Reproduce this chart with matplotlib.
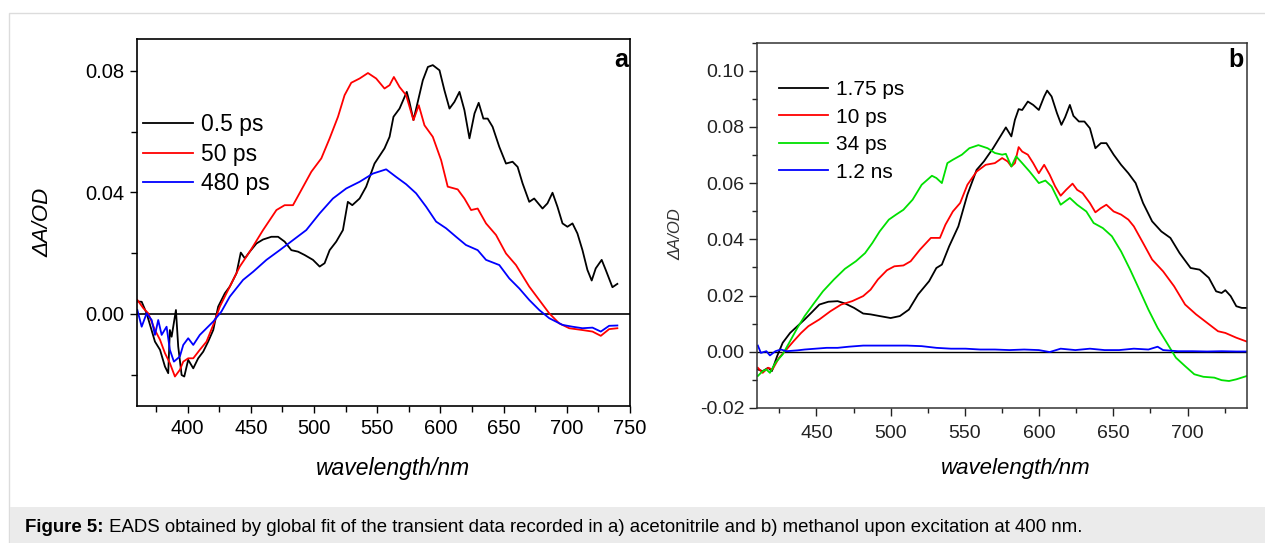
import numpy as np
import matplotlib
matplotlib.use("Agg")
import matplotlib.pyplot as plt
from matplotlib.ticker import MultipleLocator
from matplotlib.patches import Rectangle

plt.rcParams['font.family'] = ['Liberation Sans', 'DejaVu Sans']

# panel a (acetonitrile): (wavelength nm, dA)
a_05ps = [(360.3, 0.0041), (363.7, 0.0040), (367.6, 0.0002), (374.2, -0.0091), (378.2, -0.0118),
          (382.1, -0.0173), (384.7, -0.0195), (386.0, -0.0053), (387.4, -0.0075), (390.8, 0.0013),
          (392.6, -0.0107), (395.3, -0.0201), (397.4, -0.0206), (400.5, -0.0151), (404.5, -0.0179),
          (408.4, -0.0146), (412.4, -0.0124), (416.3, -0.0091), (420.3, -0.0053), (424.2, 0.0024),
          (429.5, 0.0068), (433.4, 0.0090), (438.7, 0.0134), (442.1, 0.0202), (445.3, 0.0183),
          (449.2, 0.0205), (454.5, 0.0232), (459.7, 0.0245), (466.3, 0.0254), (471.6, 0.0254),
          (476.8, 0.0238), (482.1, 0.0210), (487.4, 0.0205), (492.6, 0.0194), (499.2, 0.0178),
          (504.5, 0.0156), (508.4, 0.0167), (512.4, 0.0210), (517.6, 0.0238), (522.9, 0.0276),
          (526.8, 0.0369), (530.3, 0.0358), (536.1, 0.0380), (541.3, 0.0419), (547.9, 0.0495),
          (555.8, 0.0545), (559.8, 0.0583), (562.9, 0.0649), (567.7, 0.0676), (573.4, 0.0731),
          (575.5, 0.0698), (578.7, 0.0638), (582.1, 0.0698), (586.1, 0.0769), (590.1, 0.0813),
          (594.0, 0.0819), (599.3, 0.0802), (603.2, 0.0736), (607.2, 0.0676), (611.1, 0.0698),
          (615.1, 0.0731), (619.0, 0.0671), (623.0, 0.0578), (627.0, 0.0660), (630.3, 0.0695),
          (634.0, 0.0643), (637.4, 0.0643), (641.3, 0.0616), (646.6, 0.0550), (651.9, 0.0495),
          (657.1, 0.0501), (661.1, 0.0484), (665.0, 0.0430), (670.3, 0.0369), (674.2, 0.0380),
          (680.8, 0.0347), (684.7, 0.0364), (688.7, 0.0399), (692.6, 0.0353), (696.6, 0.0298),
          (700.5, 0.0287), (704.5, 0.0298), (708.4, 0.0265), (712.4, 0.0210), (716.3, 0.0145),
          (719.7, 0.0110), (722.9, 0.0150), (727.6, 0.0178), (730.8, 0.0145), (736.1, 0.0088),
          (740.0, 0.0099)]

a_50ps = [(360.3, 0.0046), (365.0, 0.0019), (368.9, 0.0002), (374.2, -0.0053), (378.2, -0.0085),
          (382.1, -0.0129), (386.0, -0.0162), (390.0, -0.0206), (393.9, -0.0184), (396.6, -0.0157),
          (400.5, -0.0146), (404.5, -0.0146), (409.7, -0.0118), (415.0, -0.0091), (420.3, -0.0036),
          (425.5, 0.0024), (433.4, 0.0090), (441.3, 0.0156), (449.2, 0.0205), (459.7, 0.0276),
          (470.3, 0.0342), (476.8, 0.0358), (483.4, 0.0358), (490.0, 0.0408), (497.9, 0.0468),
          (505.8, 0.0512), (512.4, 0.0578), (519.0, 0.0649), (524.2, 0.0720), (529.5, 0.0761),
          (536.1, 0.0775), (542.7, 0.0793), (549.2, 0.0775), (555.8, 0.0742), (559.8, 0.0753),
          (563.2, 0.0780), (567.7, 0.0747), (572.9, 0.0720), (578.7, 0.0638), (582.9, 0.0687),
          (587.4, 0.0621), (594.0, 0.0583), (600.6, 0.0506), (605.8, 0.0419), (613.7, 0.0410),
          (619.0, 0.0380), (624.3, 0.0342), (629.5, 0.0347), (636.1, 0.0298), (644.0, 0.0260),
          (651.9, 0.0199), (659.8, 0.0161), (670.3, 0.0090), (678.2, 0.0046), (686.1, 0.0002),
          (694.0, -0.0031), (701.9, -0.0047), (712.4, -0.0053), (720.3, -0.0058), (726.9, -0.0072),
          (733.5, -0.0050), (740.0, -0.0047)]

a_480ps = [(360.3, 0.0013), (363.7, -0.0042), (367.6, 0.0002), (371.6, -0.0020), (374.2, -0.0069),
           (376.8, -0.0020), (379.5, -0.0069), (383.4, -0.0042), (386.0, -0.0118), (389.2, -0.0157),
           (393.9, -0.0140), (396.6, -0.0102), (400.5, -0.0080), (404.5, -0.0102), (409.7, -0.0069),
           (415.0, -0.0047), (420.3, -0.0025), (426.8, 0.0008), (433.4, 0.0057), (443.9, 0.0112),
           (451.9, 0.0139), (462.4, 0.0178), (472.9, 0.0210), (483.4, 0.0243), (493.9, 0.0276),
           (504.5, 0.0331), (515.0, 0.0380), (525.5, 0.0413), (536.1, 0.0435), (546.6, 0.0462),
           (557.1, 0.0476), (565.0, 0.0451), (572.9, 0.0427), (580.8, 0.0397), (588.7, 0.0353),
           (596.6, 0.0304), (604.5, 0.0282), (612.4, 0.0254), (620.2, 0.0227), (629.5, 0.0210),
           (636.1, 0.0178), (646.6, 0.0161), (654.5, 0.0117), (662.4, 0.0084), (670.3, 0.0046),
           (678.2, 0.0013), (686.1, -0.0014), (696.6, -0.0036), (704.5, -0.0042), (712.4, -0.0047),
           (720.3, -0.0045), (726.9, -0.0058), (733.5, -0.0039), (740.0, -0.0038)]

# panel b (methanol)
b_175ps = [(410.6, -0.0063), (413.8, -0.0069), (417.5, -0.0057), (420.0, -0.0069), (423.6, -0.0015),
           (427.3, 0.0032), (432.3, 0.0067), (437.2, 0.0091), (442.1, 0.0115), (447.0, 0.0141),
           (452.0, 0.0168), (458.1, 0.0178), (464.3, 0.0180), (469.2, 0.0172), (475.4, 0.0156),
           (481.5, 0.0136), (486.5, 0.0133), (492.6, 0.0127), (500.0, 0.0120), (506.2, 0.0127),
           (512.3, 0.0150), (518.5, 0.0204), (525.9, 0.0251), (530.8, 0.0298), (534.5, 0.0310),
           (539.4, 0.0375), (545.6, 0.0446), (551.7, 0.0559), (557.9, 0.0647), (562.8, 0.0677),
           (569.0, 0.0724), (573.9, 0.0766), (577.6, 0.0798), (581.3, 0.0766), (583.7, 0.0825),
           (586.2, 0.0863), (588.6, 0.0860), (592.4, 0.0890), (596.0, 0.0878), (599.8, 0.0860),
           (603.4, 0.0908), (605.4, 0.0929), (608.4, 0.0908), (612.0, 0.0849), (615.0, 0.0807),
           (617.5, 0.0834), (620.7, 0.0878), (623.1, 0.0839), (626.8, 0.0819), (630.5, 0.0819),
           (634.2, 0.0795), (637.9, 0.0724), (641.6, 0.0742), (645.3, 0.0742), (650.2, 0.0701),
           (655.2, 0.0665), (660.1, 0.0635), (665.0, 0.0600), (670.0, 0.0529), (676.1, 0.0464),
           (682.3, 0.0428), (688.4, 0.0405), (694.6, 0.0351), (702.0, 0.0298), (708.1, 0.0292),
           (714.3, 0.0263), (719.2, 0.0215), (722.9, 0.0209), (725.4, 0.0219), (729.0, 0.0198),
           (732.8, 0.0162), (736.5, 0.0156), (740.0, 0.0156)]

b_10ps = [(410.6, -0.0057), (413.8, -0.0075), (417.5, -0.0057), (420.4, -0.0063), (424.9, -0.0021),
          (429.8, 0.0008), (434.7, 0.0038), (439.7, 0.0067), (444.6, 0.0091), (452.0, 0.0115),
          (459.4, 0.0144), (466.7, 0.0168), (474.1, 0.0180), (481.5, 0.0198), (486.5, 0.0221),
          (491.4, 0.0257), (497.5, 0.0290), (502.5, 0.0304), (508.6, 0.0307), (513.5, 0.0322),
          (519.7, 0.0363), (527.1, 0.0405), (533.2, 0.0405), (536.9, 0.0452), (541.9, 0.0499),
          (546.8, 0.0529), (551.7, 0.0594), (557.9, 0.0641), (564.0, 0.0665), (570.2, 0.0671),
          (575.1, 0.0689), (578.8, 0.0677), (581.3, 0.0659), (583.7, 0.0671), (586.2, 0.0728),
          (588.6, 0.0712), (592.4, 0.0701), (596.0, 0.0671), (599.8, 0.0635), (603.4, 0.0665),
          (607.1, 0.0630), (610.8, 0.0588), (614.5, 0.0555), (618.2, 0.0576), (622.5, 0.0598),
          (625.6, 0.0576), (629.3, 0.0564), (634.2, 0.0529), (637.9, 0.0496), (641.6, 0.0511),
          (645.3, 0.0523), (650.2, 0.0499), (655.2, 0.0488), (660.1, 0.0470), (663.8, 0.0446),
          (670.0, 0.0387), (676.1, 0.0328), (683.5, 0.0286), (690.9, 0.0233), (698.3, 0.0168),
          (705.7, 0.0133), (713.1, 0.0103), (720.5, 0.0073), (725.4, 0.0067), (732.8, 0.0050),
          (740.0, 0.0036)]

b_34ps = [(410.6, -0.0086), (413.8, -0.0069), (416.3, -0.0063), (418.7, -0.0075), (422.4, -0.0039),
          (427.3, -0.0009), (432.3, 0.0038), (437.2, 0.0085), (442.1, 0.0127), (448.3, 0.0172),
          (454.4, 0.0215), (461.8, 0.0257), (469.2, 0.0295), (476.6, 0.0322), (482.8, 0.0351),
          (487.7, 0.0387), (492.6, 0.0428), (498.8, 0.0470), (503.7, 0.0488), (508.6, 0.0505),
          (514.8, 0.0541), (520.9, 0.0594), (527.8, 0.0626), (530.8, 0.0618), (534.5, 0.0600),
          (538.2, 0.0671), (541.9, 0.0683), (548.0, 0.0701), (553.0, 0.0724), (559.1, 0.0735),
          (565.3, 0.0724), (570.2, 0.0707), (575.1, 0.0701), (577.6, 0.0704), (581.3, 0.0659),
          (584.5, 0.0695), (588.6, 0.0671), (593.6, 0.0641), (599.8, 0.0600), (604.2, 0.0609),
          (608.4, 0.0588), (614.5, 0.0523), (620.7, 0.0547), (625.6, 0.0523), (631.8, 0.0499),
          (636.7, 0.0458), (642.9, 0.0440), (649.0, 0.0411), (655.2, 0.0357), (661.3, 0.0292),
          (667.5, 0.0221), (673.6, 0.0150), (679.8, 0.0085), (686.0, 0.0032), (692.1, -0.0021),
          (698.3, -0.0051), (704.5, -0.0080), (710.6, -0.0089), (718.0, -0.0092), (722.9, -0.0101),
          (727.9, -0.0104), (732.8, -0.0098), (740.0, -0.0086)]

b_12ns = [(410.6, 0.0022), (412.6, -0.0004), (416.3, 0.0002), (418.7, -0.0013), (422.4, 0.0002),
          (426.1, 0.0008), (429.8, 0.0002), (437.2, 0.0005), (442.1, 0.0008), (449.5, 0.0011),
          (456.9, 0.0014), (464.3, 0.0014), (471.7, 0.0018), (481.5, 0.0022), (491.4, 0.0022),
          (501.2, 0.0022), (511.1, 0.0022), (520.9, 0.0020), (530.8, 0.0014), (540.6, 0.0011),
          (550.5, 0.0011), (560.3, 0.0008), (570.2, 0.0008), (580.0, 0.0006), (589.9, 0.0008),
          (599.8, 0.0006), (607.1, -0.0001), (614.5, 0.0011), (624.4, 0.0006), (634.2, 0.0011),
          (644.1, 0.0006), (653.9, 0.0006), (663.8, 0.0011), (673.6, 0.0008), (679.8, 0.0018),
          (683.5, 0.0006), (693.4, 0.0002), (703.2, 0.0002), (713.1, 0.0001), (722.9, 0.0002),
          (732.8, 0.0001), (740.0, 0.0001)]

labels_a = ["0.5 ps", "50 ps", "480 ps"]
labels_b = ["1.75 ps", "10 ps", "34 ps", "1.2 ns"]

W, H = 1265, 543
fig = plt.figure(figsize=(W / 100, H / 100), dpi=100)

# frame and caption box
fig.patches.append(Rectangle((9 / W, -0.01), 1.0, (H - 13) / H + 0.01, transform=fig.transFigure,
                             fill=False, edgecolor="#dcdcdc", lw=1.0))
fig.patches.append(Rectangle((9.5 / W, 0), 1.0, 36 / H, transform=fig.transFigure,
                             facecolor="#ebebeb", edgecolor="none"))

ax1 = fig.add_axes([137 / W, (H - 406) / H, 493 / W, 367 / H])
ax2 = fig.add_axes([757 / W, (H - 408) / H, 490 / W, 365.5 / H])

lw = 1.3
for data, col, lab in zip([a_05ps, a_50ps, a_480ps], ["black", "#ff0000", "#0000ff"], labels_a):
    d = np.array(data)
    ax1.plot(d[:, 0], d[:, 1], color=col, lw=lw, label=lab)
ax1.axhline(0, color="black", lw=1.2, zorder=0)
ax1.set_xlim(360, 750)
ax1.set_ylim(-0.0303, 0.0905)
ax1.xaxis.set_major_locator(MultipleLocator(50))
ax1.xaxis.set_minor_locator(MultipleLocator(25))
ax1.yaxis.set_major_locator(MultipleLocator(0.04))
ax1.yaxis.set_minor_locator(MultipleLocator(0.02))
ax1.yaxis.set_major_formatter(plt.FormatStrFormatter("%.2f"))
ax1.tick_params(which="both", direction="out", labelsize=14.5, width=1.0)
ax1.tick_params(which="major", length=5, pad=4)
ax1.tick_params(which="minor", length=4)
for s in ax1.spines.values():
    s.set_linewidth(1.2)
ax1.set_xlabel("wavelength/nm", fontsize=16.5, style="italic")
ax1.xaxis.set_label_coords(0.519, -0.138)
ax1.set_ylabel("ΔA/OD", fontsize=16, style="italic")
ax1.yaxis.set_label_coords(-0.170, 0.5)
ax1.text(0.996, 0.943, "a", transform=ax1.transAxes, ha="right", va="center",
         fontsize=18, fontweight="bold")
ax1.legend(loc="upper left", bbox_to_anchor=(0.012, 0.798), frameon=False, fontsize=16.5,
           handlelength=2.2, handletextpad=0.35, labelspacing=0.28, borderpad=0, borderaxespad=0)

for data, col, lab in zip([b_175ps, b_10ps, b_34ps, b_12ns],
                          ["black", "#ff0000", "#00e000", "#0000ff"], labels_b):
    d = np.array(data)
    ax2.plot(d[:, 0], d[:, 1], color=col, lw=lw, label=lab)
ax2.axhline(0, color="black", lw=1.0, zorder=0)
ax2.set_xlim(410, 740)
ax2.set_ylim(-0.02, 0.11)
ax2.xaxis.set_major_locator(MultipleLocator(50))
ax2.xaxis.set_minor_locator(MultipleLocator(25))
ax2.yaxis.set_major_locator(MultipleLocator(0.02))
ax2.yaxis.set_minor_locator(MultipleLocator(0.01))
ax2.yaxis.set_major_formatter(plt.FormatStrFormatter("%.2f"))
ax2.tick_params(which="both", direction="out", labelsize=14, width=1.0, colors="#222222")
ax2.tick_params(which="major", length=6, pad=3)
ax2.tick_params(axis="x", which="major", pad=6)
ax2.tick_params(which="minor", length=3.5)
for s in ax2.spines.values():
    s.set_linewidth(1.1)
    s.set_color("#333333")
ax2.set_xlabel("wavelength/nm", fontsize=16, style="italic")
ax2.xaxis.set_label_coords(0.527, -0.138)
ax2.set_ylabel("ΔA/OD", fontsize=12, style="italic", color="#333333")
ax2.yaxis.set_label_coords(-0.151, 0.477)
ax2.text(0.994, 0.953, "b", transform=ax2.transAxes, ha="right", va="center",
         fontsize=18, fontweight="bold")
ax2.legend(loc="upper left", bbox_to_anchor=(0.045, 0.897), frameon=False, fontsize=15,
           handlelength=2.35, handletextpad=0.38, labelspacing=0.41, borderpad=0, borderaxespad=0)

# caption
t1 = fig.text(25 / W, (H - 527) / H, "Figure 5:", fontsize=13.4, fontweight="bold", va="center")
fig.texts.append(plt.Annotation(
    " EADS obtained by global fit of the transient data recorded in a) acetonitrile and b) methanol "
    "upon excitation at 400 nm.", xy=(1, 0.5), xycoords=t1, va="center", fontsize=13.4))
fig.texts[-1].set_figure(fig)

fig.savefig("out.png", dpi=100)
